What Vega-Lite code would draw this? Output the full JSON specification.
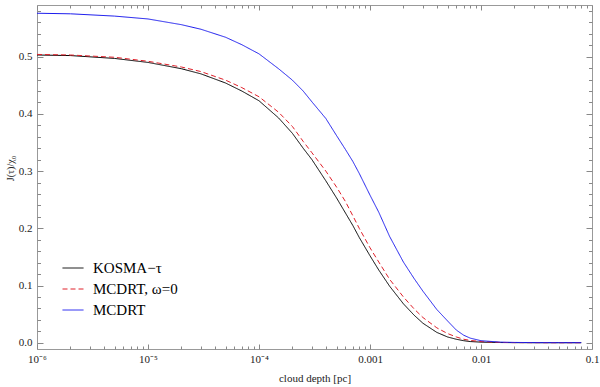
{
  "$schema": "https://vega.github.io/schema/vega-lite/v6.json",
  "width": 555,
  "height": 344,
  "autosize": {"type": "none"},
  "padding": {"left": 37, "top": 5, "right": 8, "bottom": 38},
  "background": "white",
  "config": {
    "view": {"stroke": "#999999", "strokeWidth": 1},
    "font": "Liberation Serif"
  },
  "data": {"values": [
    {"x": 1e-6, "y": 0.503, "s": "KOSMA−τ"},
    {"x": 2e-6, "y": 0.502, "s": "KOSMA−τ"},
    {"x": 5e-6, "y": 0.497, "s": "KOSMA−τ"},
    {"x": 1e-5, "y": 0.490, "s": "KOSMA−τ"},
    {"x": 2e-5, "y": 0.479, "s": "KOSMA−τ"},
    {"x": 3e-5, "y": 0.470, "s": "KOSMA−τ"},
    {"x": 5e-5, "y": 0.454, "s": "KOSMA−τ"},
    {"x": 7e-5, "y": 0.440, "s": "KOSMA−τ"},
    {"x": 1e-4, "y": 0.423, "s": "KOSMA−τ"},
    {"x": 1.5e-4, "y": 0.393, "s": "KOSMA−τ"},
    {"x": 2e-4, "y": 0.366, "s": "KOSMA−τ"},
    {"x": 2.5e-4, "y": 0.340, "s": "KOSMA−τ"},
    {"x": 3e-4, "y": 0.320, "s": "KOSMA−τ"},
    {"x": 4e-4, "y": 0.283, "s": "KOSMA−τ"},
    {"x": 5e-4, "y": 0.253, "s": "KOSMA−τ"},
    {"x": 6e-4, "y": 0.227, "s": "KOSMA−τ"},
    {"x": 7e-4, "y": 0.205, "s": "KOSMA−τ"},
    {"x": 8e-4, "y": 0.184, "s": "KOSMA−τ"},
    {"x": 1e-3, "y": 0.152, "s": "KOSMA−τ"},
    {"x": 1.2e-3, "y": 0.127, "s": "KOSMA−τ"},
    {"x": 1.5e-3, "y": 0.099, "s": "KOSMA−τ"},
    {"x": 2e-3, "y": 0.068, "s": "KOSMA−τ"},
    {"x": 2.5e-3, "y": 0.048, "s": "KOSMA−τ"},
    {"x": 3e-3, "y": 0.034, "s": "KOSMA−τ"},
    {"x": 4e-3, "y": 0.018, "s": "KOSMA−τ"},
    {"x": 5e-3, "y": 0.010, "s": "KOSMA−τ"},
    {"x": 6e-3, "y": 0.006, "s": "KOSMA−τ"},
    {"x": 7e-3, "y": 0.0035, "s": "KOSMA−τ"},
    {"x": 8e-3, "y": 0.002, "s": "KOSMA−τ"},
    {"x": 1e-2, "y": 0.001, "s": "KOSMA−τ"},
    {"x": 1.5e-2, "y": 0.0003, "s": "KOSMA−τ"},
    {"x": 2e-2, "y": 0.0001, "s": "KOSMA−τ"},
    {"x": 3e-2, "y": 0, "s": "KOSMA−τ"},
    {"x": 5e-2, "y": 0, "s": "KOSMA−τ"},
    {"x": 8e-2, "y": 0, "s": "KOSMA−τ"},
    {"x": 1e-6, "y": 0.504, "s": "MCDRT, ω=0"},
    {"x": 2e-6, "y": 0.503, "s": "MCDRT, ω=0"},
    {"x": 5e-6, "y": 0.499, "s": "MCDRT, ω=0"},
    {"x": 1e-5, "y": 0.492, "s": "MCDRT, ω=0"},
    {"x": 2e-5, "y": 0.482, "s": "MCDRT, ω=0"},
    {"x": 3e-5, "y": 0.474, "s": "MCDRT, ω=0"},
    {"x": 5e-5, "y": 0.459, "s": "MCDRT, ω=0"},
    {"x": 7e-5, "y": 0.446, "s": "MCDRT, ω=0"},
    {"x": 1e-4, "y": 0.430, "s": "MCDRT, ω=0"},
    {"x": 1.5e-4, "y": 0.403, "s": "MCDRT, ω=0"},
    {"x": 2e-4, "y": 0.378, "s": "MCDRT, ω=0"},
    {"x": 2.5e-4, "y": 0.352, "s": "MCDRT, ω=0"},
    {"x": 3e-4, "y": 0.332, "s": "MCDRT, ω=0"},
    {"x": 4e-4, "y": 0.300, "s": "MCDRT, ω=0"},
    {"x": 5e-4, "y": 0.272, "s": "MCDRT, ω=0"},
    {"x": 6e-4, "y": 0.247, "s": "MCDRT, ω=0"},
    {"x": 7e-4, "y": 0.222, "s": "MCDRT, ω=0"},
    {"x": 8e-4, "y": 0.200, "s": "MCDRT, ω=0"},
    {"x": 1e-3, "y": 0.166, "s": "MCDRT, ω=0"},
    {"x": 1.2e-3, "y": 0.141, "s": "MCDRT, ω=0"},
    {"x": 1.5e-3, "y": 0.111, "s": "MCDRT, ω=0"},
    {"x": 2e-3, "y": 0.080, "s": "MCDRT, ω=0"},
    {"x": 2.5e-3, "y": 0.059, "s": "MCDRT, ω=0"},
    {"x": 3e-3, "y": 0.044, "s": "MCDRT, ω=0"},
    {"x": 4e-3, "y": 0.026, "s": "MCDRT, ω=0"},
    {"x": 5e-3, "y": 0.016, "s": "MCDRT, ω=0"},
    {"x": 6e-3, "y": 0.010, "s": "MCDRT, ω=0"},
    {"x": 7e-3, "y": 0.006, "s": "MCDRT, ω=0"},
    {"x": 8e-3, "y": 0.004, "s": "MCDRT, ω=0"},
    {"x": 1e-2, "y": 0.002, "s": "MCDRT, ω=0"},
    {"x": 1.5e-2, "y": 0.0005, "s": "MCDRT, ω=0"},
    {"x": 2e-2, "y": 0.0002, "s": "MCDRT, ω=0"},
    {"x": 3e-2, "y": 0.0001, "s": "MCDRT, ω=0"},
    {"x": 5e-2, "y": 0, "s": "MCDRT, ω=0"},
    {"x": 8e-2, "y": 0, "s": "MCDRT, ω=0"},
    {"x": 1e-6, "y": 0.576, "s": "MCDRT"},
    {"x": 2e-6, "y": 0.575, "s": "MCDRT"},
    {"x": 5e-6, "y": 0.571, "s": "MCDRT"},
    {"x": 1e-5, "y": 0.566, "s": "MCDRT"},
    {"x": 2e-5, "y": 0.556, "s": "MCDRT"},
    {"x": 3e-5, "y": 0.548, "s": "MCDRT"},
    {"x": 5e-5, "y": 0.534, "s": "MCDRT"},
    {"x": 7e-5, "y": 0.521, "s": "MCDRT"},
    {"x": 1e-4, "y": 0.505, "s": "MCDRT"},
    {"x": 1.5e-4, "y": 0.479, "s": "MCDRT"},
    {"x": 2e-4, "y": 0.459, "s": "MCDRT"},
    {"x": 2.5e-4, "y": 0.440, "s": "MCDRT"},
    {"x": 3e-4, "y": 0.421, "s": "MCDRT"},
    {"x": 4e-4, "y": 0.392, "s": "MCDRT"},
    {"x": 5e-4, "y": 0.362, "s": "MCDRT"},
    {"x": 6e-4, "y": 0.338, "s": "MCDRT"},
    {"x": 7e-4, "y": 0.317, "s": "MCDRT"},
    {"x": 8e-4, "y": 0.296, "s": "MCDRT"},
    {"x": 1e-3, "y": 0.258, "s": "MCDRT"},
    {"x": 1.2e-3, "y": 0.228, "s": "MCDRT"},
    {"x": 1.5e-3, "y": 0.186, "s": "MCDRT"},
    {"x": 2e-3, "y": 0.141, "s": "MCDRT"},
    {"x": 2.5e-3, "y": 0.112, "s": "MCDRT"},
    {"x": 3e-3, "y": 0.090, "s": "MCDRT"},
    {"x": 4e-3, "y": 0.058, "s": "MCDRT"},
    {"x": 5e-3, "y": 0.038, "s": "MCDRT"},
    {"x": 6e-3, "y": 0.022, "s": "MCDRT"},
    {"x": 7e-3, "y": 0.013, "s": "MCDRT"},
    {"x": 8e-3, "y": 0.008, "s": "MCDRT"},
    {"x": 1e-2, "y": 0.0035, "s": "MCDRT"},
    {"x": 1.5e-2, "y": 0.001, "s": "MCDRT"},
    {"x": 2e-2, "y": 0.0005, "s": "MCDRT"},
    {"x": 3e-2, "y": 0.0002, "s": "MCDRT"},
    {"x": 5e-2, "y": 0.0001, "s": "MCDRT"},
    {"x": 8e-2, "y": 0.0001, "s": "MCDRT"}
  ]},
  "layer": [
    {
      "mark": {"type": "line", "strokeWidth": 1, "clip": true},
      "encoding": {
        "x": {
          "field": "x", "type": "quantitative",
          "scale": {"type": "log", "domain": [1e-6, 0.1], "nice": false},
          "axis": {
            "orient": "bottom",
            "values": [1e-6, 2e-6, 3e-6, 4e-6, 5e-6, 6e-6, 7e-6, 8e-6, 9e-6, 1e-5, 2e-5, 3e-5, 4e-5, 5e-5, 6e-5, 7e-5, 8e-5, 9e-5, 1e-4, 2e-4, 3e-4, 4e-4, 5e-4, 6e-4, 7e-4, 8e-4, 9e-4, 0.001, 0.002, 0.003, 0.004, 0.005, 0.006, 0.007, 0.008, 0.009, 0.01, 0.02, 0.03, 0.04, 0.05, 0.06, 0.07, 0.08, 0.09, 0.1],
            "domain": false, "grid": false,
            "tickColor": "#888888",
            "tickSize": {"condition": {"test": "abs(log(datum.value)/LN10 - round(log(datum.value)/LN10)) < 0.01", "value": -5}, "value": -3},
            "labelExpr": "abs(log(datum.value)/LN10 - round(log(datum.value)/LN10)) > 0.01 ? '' : round(log(datum.value)/LN10) == -6 ? '10⁻⁶' : round(log(datum.value)/LN10) == -5 ? '10⁻⁵' : round(log(datum.value)/LN10) == -4 ? '10⁻⁴' : round(log(datum.value)/LN10) == -3 ? '0.001' : round(log(datum.value)/LN10) == -2 ? '0.01' : '0.1'",
            "labelFont": "Liberation Serif", "labelFontSize": 11, "labelColor": "#222222",
            "labelPadding": 9, "labelFlush": false, "labelOverlap": false,
            "title": "cloud depth [pc]", "titleFont": "Liberation Serif", "titleFontSize": 11,
            "titleFontWeight": "normal", "titleColor": "#222222", "titleY": 29, "titleBaseline": "middle"
          }
        },
        "y": {
          "field": "y", "type": "quantitative",
          "scale": {"domain": [-0.011, 0.5904], "nice": false, "zero": false},
          "axis": {
            "orient": "left",
            "values": [0, 0.02, 0.04, 0.06, 0.08, 0.1, 0.12, 0.14, 0.16, 0.18, 0.2, 0.22, 0.24, 0.26, 0.28, 0.3, 0.32, 0.34, 0.36, 0.38, 0.4, 0.42, 0.44, 0.46, 0.48, 0.5, 0.52, 0.54, 0.56, 0.58],
            "domain": false, "grid": false,
            "tickColor": "#888888",
            "tickSize": {"condition": {"test": "abs(datum.value*10 - round(datum.value*10)) < 0.001", "value": -6}, "value": -3.5},
            "labelExpr": "abs(datum.value*10 - round(datum.value*10)) < 0.001 ? format(datum.value, '.1f') : ''",
            "labelFont": "Liberation Serif", "labelFontSize": 11, "labelColor": "#222222",
            "labelPadding": 11, "labelOverlap": false, "labelAlign": "right",
            "title": "J(τ)/χ₀", "titleFont": "Liberation Serif", "titleFontSize": 10,
            "titleFontWeight": "normal", "titleColor": "#222222",
            "titleX": -27, "titleY": 163, "titleAngle": -90, "titleAlign": "center", "titleBaseline": "middle"
          }
        },
        "color": {
          "field": "s", "type": "nominal",
          "scale": {"domain": ["KOSMA−τ", "MCDRT, ω=0", "MCDRT"], "range": ["#000000", "#e0202a", "#1a1aee"]},
          "legend": {"title": null, "orient": "none", "legendX": 25, "legendY": 252, "symbolType": "stroke", "symbolSize": 441, "symbolStrokeWidth": 1, "labelFont": "Liberation Serif", "labelFontSize": 15, "labelColor": "#000000", "labelOffset": 9, "rowPadding": 2, "padding": 0}
        },
        "strokeDash": {
          "field": "s", "type": "nominal",
          "scale": {"domain": ["KOSMA−τ", "MCDRT, ω=0", "MCDRT"], "range": [[1, 0], [5, 3], [1, 0]]},
          "legend": {"title": null, "orient": "none", "legendX": 25, "legendY": 252, "symbolType": "stroke", "symbolSize": 441, "symbolStrokeWidth": 1, "labelFont": "Liberation Serif", "labelFontSize": 15, "labelColor": "#000000", "labelOffset": 9, "rowPadding": 2, "padding": 0}
        }
      }
    },
    {
      "mark": {"type": "point", "opacity": 0},
      "encoding": {
        "x": {
          "field": "x", "type": "quantitative",
          "axis": {
            "orient": "top",
            "values": [1e-6, 2e-6, 3e-6, 4e-6, 5e-6, 6e-6, 7e-6, 8e-6, 9e-6, 1e-5, 2e-5, 3e-5, 4e-5, 5e-5, 6e-5, 7e-5, 8e-5, 9e-5, 1e-4, 2e-4, 3e-4, 4e-4, 5e-4, 6e-4, 7e-4, 8e-4, 9e-4, 0.001, 0.002, 0.003, 0.004, 0.005, 0.006, 0.007, 0.008, 0.009, 0.01, 0.02, 0.03, 0.04, 0.05, 0.06, 0.07, 0.08, 0.09, 0.1],
            "domain": false, "grid": false, "labels": false, "title": null,
            "tickColor": "#888888",
            "tickSize": {"condition": {"test": "abs(log(datum.value)/LN10 - round(log(datum.value)/LN10)) < 0.01", "value": -5}, "value": -3}
          }
        },
        "y": {
          "field": "y", "type": "quantitative",
          "axis": {
            "orient": "right",
            "values": [0, 0.02, 0.04, 0.06, 0.08, 0.1, 0.12, 0.14, 0.16, 0.18, 0.2, 0.22, 0.24, 0.26, 0.28, 0.3, 0.32, 0.34, 0.36, 0.38, 0.4, 0.42, 0.44, 0.46, 0.48, 0.5, 0.52, 0.54, 0.56, 0.58],
            "domain": false, "grid": false, "labels": false, "title": null,
            "tickColor": "#888888",
            "tickSize": {"condition": {"test": "abs(datum.value*10 - round(datum.value*10)) < 0.001", "value": -6}, "value": -3.5}
          }
        }
      }
    }
  ],
  "resolve": {"axis": {"x": "independent", "y": "independent"}}
}
